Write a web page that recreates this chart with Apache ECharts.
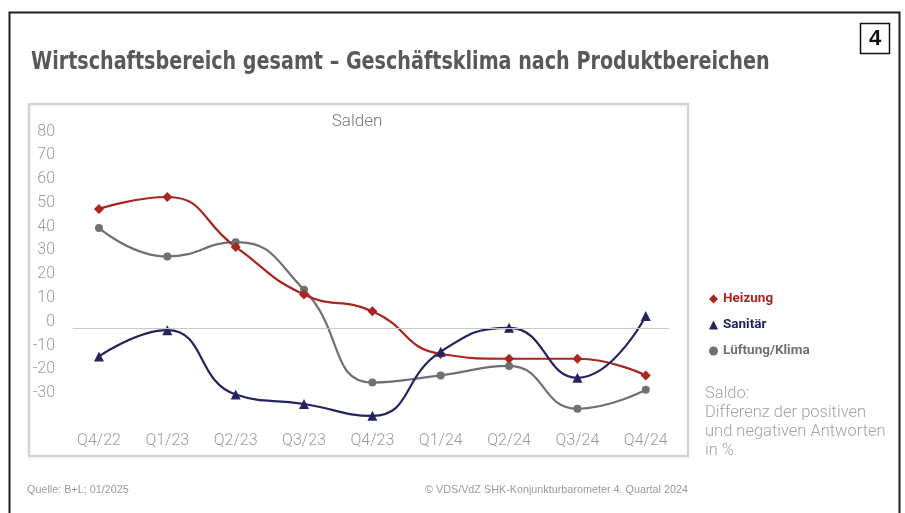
<!DOCTYPE html>
<html>
<head>
<meta charset="utf-8">
<script src="https://cdn.jsdelivr.net/npm/echarts@6/dist/echarts.min.js"></script>
<style>
  html, body { margin: 0; padding: 0; background: #ffffff; }
  #chart { width: 905px; height: 513px; }
</style>
</head>
<body>
<div id="chart"></div>
<script>
// Quarters on the horizontal axis
const quarters = ['Q4/22', 'Q1/23', 'Q2/23', 'Q3/23', 'Q4/23', 'Q1/24', 'Q2/24', 'Q3/24', 'Q4/24'];

// Balance values (Salden) per product area, in %
const heizung = [50, 55, 34, 14, 7, -11, -13, -13, -20];
const sanitaer = [-12, -1, -28, -32, -37, -10, 0, -21, 5];
const lueftung = [42, 30, 36, 16, -23, -20, -16, -34, -26];

// Vertical axis range
const yMin = -40, yMax = 80, yStep = 10;

const titleText = 'Wirtschaftsbereich gesamt – Geschäftsklima nach Produktbereichen';
const noteLines = ['Saldo:', 'Differenz der positiven', 'und negativen Antworten', 'in %'];
const sourceText = 'Quelle: B+L; 01/2025';
const copyrightText = '© VDS/VdZ SHK-Konjunkturbarometer 4. Quartal 2024';

const colors = { heizung: '#a8261f', sanitaer: '#24235f', lueftung: '#6f7072' };

const toPairs = arr => arr.map((v, i) => [i, v]);

const chart = echarts.init(document.getElementById('chart'), null, { renderer: 'canvas' });

const lineSeries = (name, values, symbol, size, color, extra) => Object.assign({
  name: name,
  type: 'line',
  data: toPairs(values),
  smooth: 0.5,
  symbol: symbol,
  symbolSize: size,
  lineStyle: { color: color, width: 2.2 },
  itemStyle: { color: color },
  emphasis: { disabled: true },
  z: 3
}, extra || {});

chart.setOption({
  animation: false,
  backgroundColor: '#ffffff',
  grid: { left: 73, right: 236, top: 137.5, bottom: 90, containLabel: false },
  xAxis: {
    type: 'value',
    min: -0.38,
    max: 8.34,
    axisLine: { show: false },
    axisTick: { show: false },
    splitLine: { show: false },
    axisLabel: {
      customValues: quarters.map((q, i) => i),
      formatter: v => quarters[Math.round(v)],
      color: '#9b9b9b',
      fontFamily: 'Roboto',
      fontWeight: 300,
      fontSize: 16,
      margin: 10
    }
  },
  yAxis: {
    type: 'value',
    min: yMin,
    max: yMax,
    interval: yStep,
    axisLine: { show: false },
    axisTick: { show: false },
    splitLine: { show: false },
    axisLabel: {
      showMinLabel: false,
      color: '#9b9b9b',
      fontFamily: 'Roboto',
      fontWeight: 300,
      fontSize: 16,
      margin: 18,
      verticalAlign: 'bottom',
      lineHeight: 12
    }
  },
  legend: {
    orient: 'vertical',
    left: 704,
    top: 287,
    itemWidth: 9,
    itemHeight: 9,
    itemGap: 12,
    selectedMode: false,
    textStyle: { fontFamily: 'Roboto', fontWeight: 'bold', fontSize: 13.5 },
    data: [
      { name: 'Heizung', icon: 'diamond', textStyle: { color: colors.heizung } },
      { name: 'Sanitär', icon: 'triangle', textStyle: { color: colors.sanitaer } },
      { name: 'Lüftung/Klima', icon: 'circle', textStyle: { color: colors.lueftung } }
    ]
  },
  graphic: [
    // outer frame
    { type: 'rect', shape: { x: 9.5, y: 12.5, width: 890, height: 520 },
      style: { fill: 'none', stroke: '#1e1e1e', lineWidth: 2 }, silent: true },
    // page number box
    { type: 'rect', shape: { x: 860.5, y: 23.5, width: 29, height: 30 },
      style: { fill: '#ffffff', stroke: '#111111', lineWidth: 1.5 }, silent: true },
    { type: 'text', x: 875, y: 39,
      style: { text: '4', fill: '#111111', font: 'bold 22px "Liberation Sans", Arial, sans-serif',
        align: 'center', verticalAlign: 'middle' }, silent: true },
    // heading, horizontally condensed
    { type: 'text', x: 31, y: 63, scaleX: 0.887,
      style: { text: titleText, fill: '#58595b', font: 'bold 24px "DejaVu Sans Condensed", "Liberation Sans Narrow", sans-serif',
        verticalAlign: 'middle' }, silent: true },
    // plot frame
    { type: 'rect', shape: { x: 29, y: 104, width: 659, height: 352 },
      style: { fill: 'none', stroke: '#d2d2d2', lineWidth: 2, shadowColor: 'rgba(0,0,0,0.12)', shadowBlur: 3, shadowOffsetY: 1 },
      silent: true, z: -1 },
    { type: 'text', x: 357, y: 122,
      style: { text: 'Salden', fill: '#7a7a7a', font: '300 17px Roboto, sans-serif',
        align: 'center', verticalAlign: 'middle' }, silent: true },
    // explanatory note
    { type: 'text', x: 705, y: 384,
      style: { text: noteLines.join('\n'), fill: '#a3a3a3', font: '300 16.5px Roboto, sans-serif',
        lineHeight: 19, verticalAlign: 'top' }, silent: true },
    // footer
    { type: 'text', x: 27, y: 490,
      style: { text: sourceText, fill: '#9a9a9a', font: '10.8px "Liberation Sans Narrow", sans-serif',
        verticalAlign: 'middle' }, silent: true },
    { type: 'text', x: 425, y: 490,
      style: { text: copyrightText, fill: '#9a9a9a', font: '10.8px "Liberation Sans Narrow", sans-serif',
        verticalAlign: 'middle' }, silent: true }
  ],
  series: [
    lineSeries('Lüftung/Klima', lueftung, 'circle', 8, colors.lueftung, {
      markLine: {
        silent: true,
        symbol: 'none',
        label: { show: false },
        lineStyle: { color: '#c9c9c9', width: 1, type: 'solid' },
        data: [{ yAxis: 0 }]
      }
    }),
    lineSeries('Heizung', heizung, 'diamond', 10, colors.heizung),
    lineSeries('Sanitär', sanitaer, 'triangle', 10, colors.sanitaer)
  ]
});
</script>
</body>
</html>
